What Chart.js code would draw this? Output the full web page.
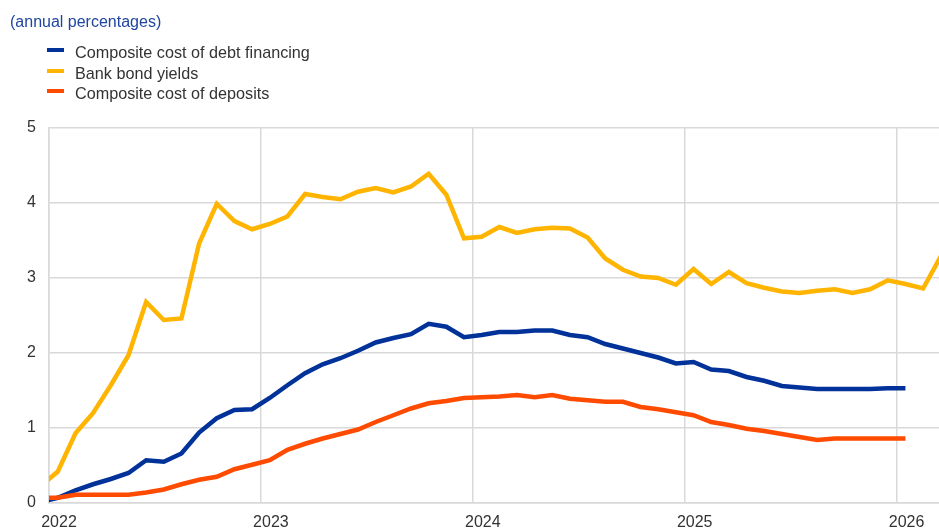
<!DOCTYPE html>
<html>
<head>
<meta charset="utf-8">
<script src="https://cdn.jsdelivr.net/npm/chart.js@4.4.1/dist/chart.umd.min.js"></script>
<style>
  body { margin: 0; background: #fff; }
  #wrap { position: relative; width: 939px; height: 529px; font-family: "Liberation Sans", Arial, sans-serif; }
  #title { position: absolute; left: 10px; top: 12px; font-size: 16px; line-height: 20px; color: #1f45a0; }
  #legend { position: absolute; left: 47px; top: 42px; font-size: 16.2px; line-height: 20.5px; color: #333; }
  .row { position: relative; padding-left: 28px; white-space: nowrap; }
  .sw { position: absolute; left: 0; top: 6px; width: 17px; height: 4px; }
  canvas { position: absolute; left: 0; top: 0; }
</style>
</head>
<body>
<div id="wrap">
  <canvas id="trend_chart" width="939" height="529"></canvas>
  <div id="title">(annual percentages)</div>
  <div id="legend"></div>
</div>
<script>
// monthly observations, Dec 2021 .. Mar 2026
var months = ['2021-12',
  '2022-01','2022-02','2022-03','2022-04','2022-05','2022-06','2022-07','2022-08','2022-09','2022-10','2022-11','2022-12',
  '2023-01','2023-02','2023-03','2023-04','2023-05','2023-06','2023-07','2023-08','2023-09','2023-10','2023-11','2023-12',
  '2024-01','2024-02','2024-03','2024-04','2024-05','2024-06','2024-07','2024-08','2024-09','2024-10','2024-11','2024-12',
  '2025-01','2025-02','2025-03','2025-04','2025-05','2025-06','2025-07','2025-08','2025-09','2025-10','2025-11','2025-12',
  '2026-01','2026-02','2026-03']

var yearLabels = ['2022', '2023', '2024', '2025', '2026']

var debtFinancing = [0.01,
  0.07, 0.17, 0.25, 0.32, 0.40, 0.57, 0.55, 0.66, 0.94, 1.13, 1.24, 1.25,
  1.40, 1.57, 1.73, 1.85, 1.93, 2.03, 2.14, 2.20, 2.25, 2.39, 2.35, 2.21,
  2.24, 2.28, 2.28, 2.30, 2.30, 2.24, 2.21, 2.12, 2.06, 2.00, 1.94, 1.86,
  1.88, 1.78, 1.76, 1.68, 1.63, 1.56, 1.54, 1.52, 1.52, 1.52, 1.52, 1.53,
  1.53]

var bankBondYields = [0.22,
  0.42, 0.93, 1.20, 1.57, 1.97, 2.68, 2.44, 2.46, 3.46, 3.99, 3.76, 3.65,
  3.72, 3.82, 4.12, 4.08, 4.05, 4.15, 4.20, 4.14, 4.22, 4.39, 4.11, 3.53,
  3.55, 3.68, 3.60, 3.65, 3.67, 3.66, 3.54, 3.26, 3.11, 3.02, 3.00, 2.91,
  3.12, 2.92, 3.08, 2.93, 2.87, 2.82, 2.80, 2.83, 2.85, 2.80, 2.85, 2.97,
  2.92, 2.86, 3.29]

var costDeposits = [0.07,
  0.07, 0.11, 0.11, 0.11, 0.11, 0.14, 0.18, 0.25, 0.31, 0.35, 0.45, 0.51,
  0.57, 0.71, 0.79, 0.86, 0.92, 0.98, 1.08, 1.17, 1.26, 1.33, 1.36, 1.40,
  1.41, 1.42, 1.44, 1.41, 1.44, 1.39, 1.37, 1.35, 1.35, 1.28, 1.25, 1.21,
  1.17, 1.08, 1.04, 0.99, 0.96, 0.92, 0.88, 0.84, 0.86, 0.86, 0.86, 0.86,
  0.86]

var seriesNames = ['Composite cost of debt financing', 'Bank bond yields', 'Composite cost of deposits']
var colors = ['#003299', '#ffb400', '#ff4b00']
var gridColor = '#d9d9d9'

// x = months since Jan 2022, points sit mid-month
function toPoints(values) {
    var pts = []
    values.forEach(function (v, i) {
        var p = months[i].split('-')
        var x = (parseInt(p[0]) - 2022) * 12 + (parseInt(p[1]) - 1) + 0.5
        pts.push({x: x, y: v})
    })
    return pts
}

var all = [debtFinancing, bankBondYields, costDeposits]
var ds = []
var order = [1, 2, 0]
all.forEach(function (vals, i) {
    ds.push({label: seriesNames[i], data: toPoints(vals), borderColor: colors[i], backgroundColor: colors[i],
             borderWidth: 4.5, pointRadius: 0, tension: 0, order: order[i]})
})

var legend = document.getElementById('legend')
seriesNames.forEach(function (name, i) {
    var row = document.createElement('div')
    row.className = 'row'
    row.innerHTML = '<span class="sw" style="background:' + colors[i] + '"></span>' + name
    legend.appendChild(row)
})

var ctx = document.getElementById('trend_chart')
new Chart(ctx, {
    type: 'line',
    data: {datasets: ds},
    options: {
        responsive: false,
        animation: false,
        layout: {padding: {top: 128, left: 0, right: 0, bottom: 0}},
        plugins: {legend: {display: false}, tooltip: {enabled: false}},
        scales: {
            x: {
                type: 'linear', min: 0, max: 50.4,
                afterBuildTicks: function (s) { s.ticks = [0, 12, 24, 36, 48].map(function (v) { return {value: v} }) },
                afterFit: function (s) { s.height = 26 },
                grid: {color: gridColor, lineWidth: 1.5, drawTicks: false},
                border: {color: gridColor, width: 1.5},
                ticks: {
                    callback: function (v, i) { return yearLabels[i] },
                    labelOffset: 10, padding: 10, maxRotation: 0, autoSkip: false,
                    color: '#333', font: {family: '"Liberation Sans", Arial, sans-serif', size: 16}
                }
            },
            y: {
                min: 0, max: 5,
                afterFit: function (s) { s.width = 49 },
                grid: {color: gridColor, lineWidth: 1.5, drawTicks: false},
                border: {color: gridColor, width: 1.5},
                ticks: {
                    stepSize: 1, padding: 13, color: '#333',
                    font: {family: '"Liberation Sans", Arial, sans-serif', size: 16}
                }
            }
        }
    }
})
</script>
</body>
</html>
